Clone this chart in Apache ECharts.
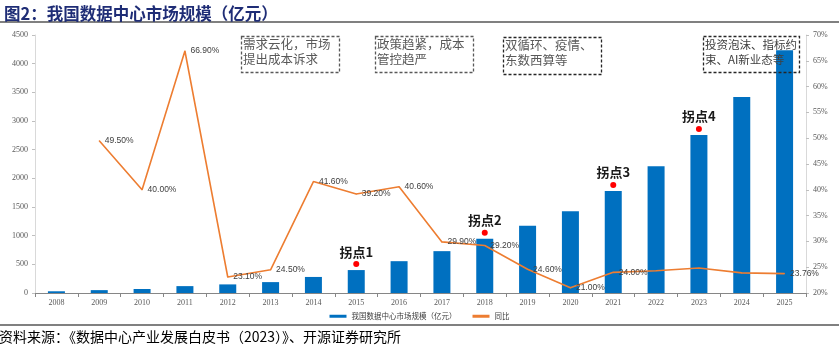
<!DOCTYPE html>
<html>
<head>
<meta charset="utf-8">
<script src="https://cdn.jsdelivr.net/npm/echarts@6/dist/echarts.min.js"></script>
<style>
html, body { margin: 0; padding: 0; background: #fff; }
#ChartMain { width: 839px; height: 353px; }
</style>
</head>
<body>
<div id="ChartMain"></div>
<script>
var years = ['2008', '2009', '2010', '2011', '2012', '2013', '2014', '2015', '2016',
    '2017', '2018', '2019', '2020', '2021', '2022', '2023', '2024', '2025'];
// 我国数据中心市场规模（亿元）
var marketSize = [30, 50, 70, 120, 150, 190, 280, 400, 555,
    730, 945, 1175, 1425, 1780, 2210, 2755, 3420, 4233];
// 同比 (%)，2008 无数据
var yoy = [null, 49.5, 40.0, 66.9, 23.1, 24.5, 41.6, 39.2, 40.6,
    29.9, 29.2, 24.6, 21.0, 24.0, 24.3, 24.85, 23.9, 23.76];
// which yoy points carry a label
var yoyLabeled = [false, true, true, true, true, true, true, true, true,
    true, true, true, true, true, false, false, false, true];
// turning points
var turnYears = ['2015', '2018', '2021', '2023'];
var turnNames = ['拐点1', '拐点2', '拐点3', '拐点4'];
// dashed annotation boxes
var notes = [
    '需求云化，市场\n提出成本诉求',
    '政策趋紧，成本\n管控趋严',
    '双循环、疫情、\n东数西算等',
    '投资泡沫、指标约\n束、AI新业态等'
];

var dom = document.getElementById('ChartMain');
var myChart = echarts.init(dom);
var cjk = '"Noto Sans CJK SC", sans-serif';

var lineData = yoy.map(function (v, i) {
    return { value: v, label: { show: yoyLabeled[i] } };
});

var markData = turnYears.map(function (y, i) {
    var idx = years.indexOf(y);
    return { name: turnNames[i], coord: [idx, marketSize[idx]] };
});

// annotation box placement (pixels)
var boxPos = [[239, 34, 98, 36], [373, 34, 98, 36], [501, 35, 98, 37], [701, 34, 96, 36]];
var noteGraphics = [];
notes.forEach(function (t, i) {
    var p = boxPos[i];
    noteGraphics.push({
        type: 'rect', left: p[0], top: p[1], z: 100,
        shape: { width: p[2], height: p[3] },
        style: { fill: 'none', stroke: i >= 2 ? '#262626' : '#595959', lineWidth: 1.3, lineDash: [3, 2] }
    });
    noteGraphics.push({
        type: 'text', left: p[0] + 4, top: p[1] + 3, z: 101,
        style: {
            text: t, fill: i == 3 ? '#404040' : '#595959',
            font: (i == 3 ? '11.5px ' : '12.5px ') + cjk, lineHeight: 15
        }
    });
});

option = {
    animation: false,
    title: {
        text: '图2：我国数据中心市场规模（亿元）',
        left: -1, top: 0,
        textStyle: { color: '#1F2D76', fontSize: 16.5, fontWeight: 'bold', fontFamily: cjk }
    },
    legend: {
        bottom: 28, left: 'center',
        itemGap: 16,
        textStyle: { fontSize: 7.5, color: '#404040', fontFamily: cjk },
        data: [
            { name: '我国数据中心市场规模（亿元）', icon: 'rect', itemStyle: { color: '#0070C0' } },
            { name: '同比', icon: 'rect', itemStyle: { color: '#ED7D31' } }
        ],
        itemWidth: 17, itemHeight: 3
    },
    grid: { left: 35, right: 33, top: 35, bottom: 60 },
    xAxis: {
        type: 'category',
        data: years,
        axisLine: { lineStyle: { color: '#868686' } },
        axisTick: { show: true, length: 4, lineStyle: { color: '#868686' } },
        axisLabel: { fontSize: 8, color: '#595959', fontFamily: 'Liberation Serif', margin: 6 }
    },
    yAxis: [{
        type: 'value', min: 0, max: 4500, interval: 500,
        axisLine: { show: true, lineStyle: { color: '#d9d9d9' } },
        axisTick: { show: true, length: 3, lineStyle: { color: '#bfbfbf' } },
        splitLine: { show: false },
        axisLabel: {
            fontSize: 8, color: '#595959', fontFamily: 'Liberation Serif', margin: 7,
            formatter: function (v) { return String(v); }
        }
    }, {
        type: 'value', min: 20, max: 70, interval: 5,
        axisLine: { show: true, lineStyle: { color: '#d9d9d9' } },
        axisTick: { show: true, length: 3, lineStyle: { color: '#bfbfbf' } },
        splitLine: { show: false },
        axisLabel: { fontSize: 8, color: '#595959', fontFamily: 'Liberation Serif', margin: 7, formatter: '{value}%' }
    }],
    series: [{
        name: '我国数据中心市场规模（亿元）',
        type: 'bar',
        data: marketSize,
        barWidth: 17,
        itemStyle: { color: '#0070C0' },
        markPoint: {
            symbol: 'circle', symbolSize: 6, symbolOffset: [0, -6],
            itemStyle: { color: '#FF0000' },
            label: {
                show: true, position: 'top', distance: 3,
                formatter: '{b}', color: '#1a1a1a',
                fontSize: 13, fontWeight: 'bold', fontFamily: cjk
            },
            data: markData
        }
    }, {
        name: '同比',
        type: 'line',
        yAxisIndex: 1,
        data: lineData,
        symbol: 'circle',
        symbolSize: 1,
        showSymbol: true,
        showAllSymbol: true,
        lineStyle: { color: '#ED7D31', width: 1.6 },
        itemStyle: { color: '#ED7D31' },
        label: {
            position: 'right', distance: 5,
            formatter: function (p) { return p.value == null ? '' : p.value.toFixed(2) + '%'; },
            fontSize: 8.5, color: '#404040', fontFamily: 'Liberation Sans'
        },
        z: 3
    }],
    graphic: [
        { type: 'rect', left: 0, top: 21, shape: { width: 839, height: 2 }, style: { fill: '#808080' } },
        { type: 'rect', left: 0, top: 324, shape: { width: 839, height: 2 }, style: { fill: '#808080' } },
        {
            type: 'text', left: -1, top: 330,
            style: {
                text: '资料来源：《数据中心产业发展白皮书（2023）》、开源证券研究所',
                fill: '#000', font: '14px ' + cjk
            }
        }
    ].concat(noteGraphics)
};

if (option && typeof option === 'object') {
    myChart.setOption(option, true);
}
</script>
</body>
</html>
